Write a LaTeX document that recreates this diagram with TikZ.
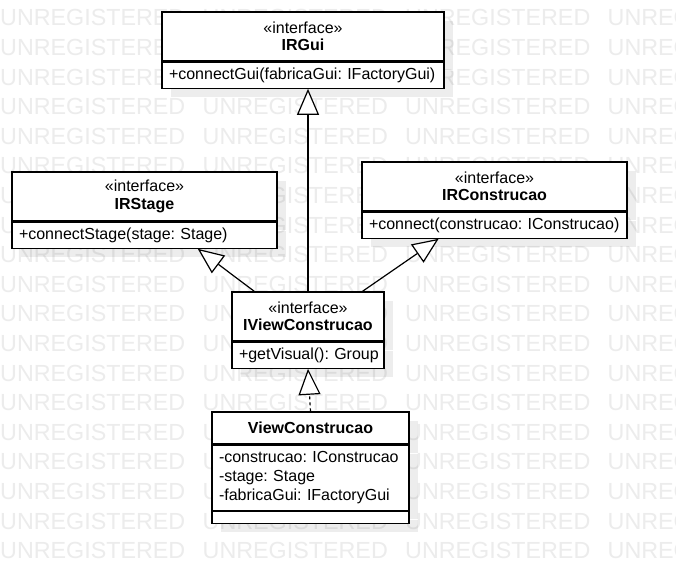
\documentclass[tikz,border=0pt]{standalone}
\usepackage{fontspec}
\setmainfont{Liberation Sans}
\usetikzlibrary{positioning,arrows.meta,shadows,calc}

\tikzset{
  wm/.style={text=gray!15, font=\fontsize{23.3}{25}\selectfont, anchor=base west, inner sep=0pt},
  boxshadow/.style={drop shadow={shadow xshift=9pt, shadow yshift=-9pt, opacity=0.07, fill=black}},
  classhead/.style={draw, fill=white, line width=1.2pt, align=center, inner sep=0pt, boxshadow,
    font=\fontsize{16}{17.5}\selectfont\frenchspacing},
  classbody/.style={draw, fill=white, line width=1.2pt, align=left, inner xsep=7pt, inner ysep=0pt, boxshadow,
    font=\fontsize{16}{19}\selectfont\frenchspacing},
  realize/.style={line width=1.2pt, -{Triangle[fill=white, length=26pt, width=22pt]}},
}

\begin{document}
\begin{tikzpicture}[x=1pt, y=-1pt]
              \useasboundingbox[fill=white] (0,0) rectangle (676,571);

              \foreach \r in {0,...,18}{
                \foreach \c in {0,...,3}{
                  \node[wm] (wm-\r-\c) at ({202.5*\c}, {25.8+29.6*\r}) {UNREGISTERED};
                }
              }

              \node[classhead, minimum width=282pt, minimum height=49pt] (irgui) at (303,36.5) {«interface»\\\textbf{IRGui}};
              \node[classbody, below=0pt of irgui, text width=268pt, minimum height=26pt] (irguiops) {\mbox{+connectGui(fabricaGui: IFactoryGui)}};

              \node[classhead, minimum width=265pt, minimum height=49pt] (irstage) at (144.5,196.5) {«interface»\\\textbf{IRStage}};
              \node[classbody, below=0pt of irstage, text width=251pt, minimum height=26pt] (irstageops) {\mbox{+connectStage(stage: Stage)}};

              \node[classhead, minimum width=265pt, minimum height=49pt] (ircons) at (494.5,186.5) {«interface»\\\textbf{IRConstrucao}};
              \node[classbody, below=0pt of ircons, text width=251pt, minimum height=26pt] (irconsops) {\mbox{+connect(construcao: IConstrucao)}};

              \node[classhead, minimum width=152pt, minimum height=49pt] (ivc) at (308,316.5) {«interface»\\\textbf{IViewConstrucao}};
              \node[classbody, below=0pt of ivc, text width=138pt, minimum height=26pt] (ivcops) {\mbox{+getVisual(): Group}};

              \node[classhead, minimum width=197pt, minimum height=32pt] (vc) at (310.5,428) {\textbf{ViewConstrucao}};
              \node[classbody, below=0pt of vc, text width=183pt, minimum height=65pt] (vcattrs) {\mbox{-construcao: IConstrucao}\\\mbox{-stage: Stage}\\\mbox{-fabricaGui: IFactoryGui}};
              \node[classbody, below=0pt of vcattrs, text width=183pt, minimum height=12pt] (vcops) {};

              \draw[realize] (ivc.north) -- (ivc.north |- irguiops.south);
              \draw[realize] ($(ivc.north west)!0.15!(ivc.north east)$) -- ($(irstageops.south west)!0.7!(irstageops.south east)$);
              \draw[realize] ($(ivc.north west)!0.855!(ivc.north east)$) -- ($(irconsops.south west)!0.29!(irconsops.south east)$);
              \draw[realize, dash pattern=on 3pt off 3pt] (vc.north) -- (ivcops.south);
            \end{tikzpicture}
\end{document}
